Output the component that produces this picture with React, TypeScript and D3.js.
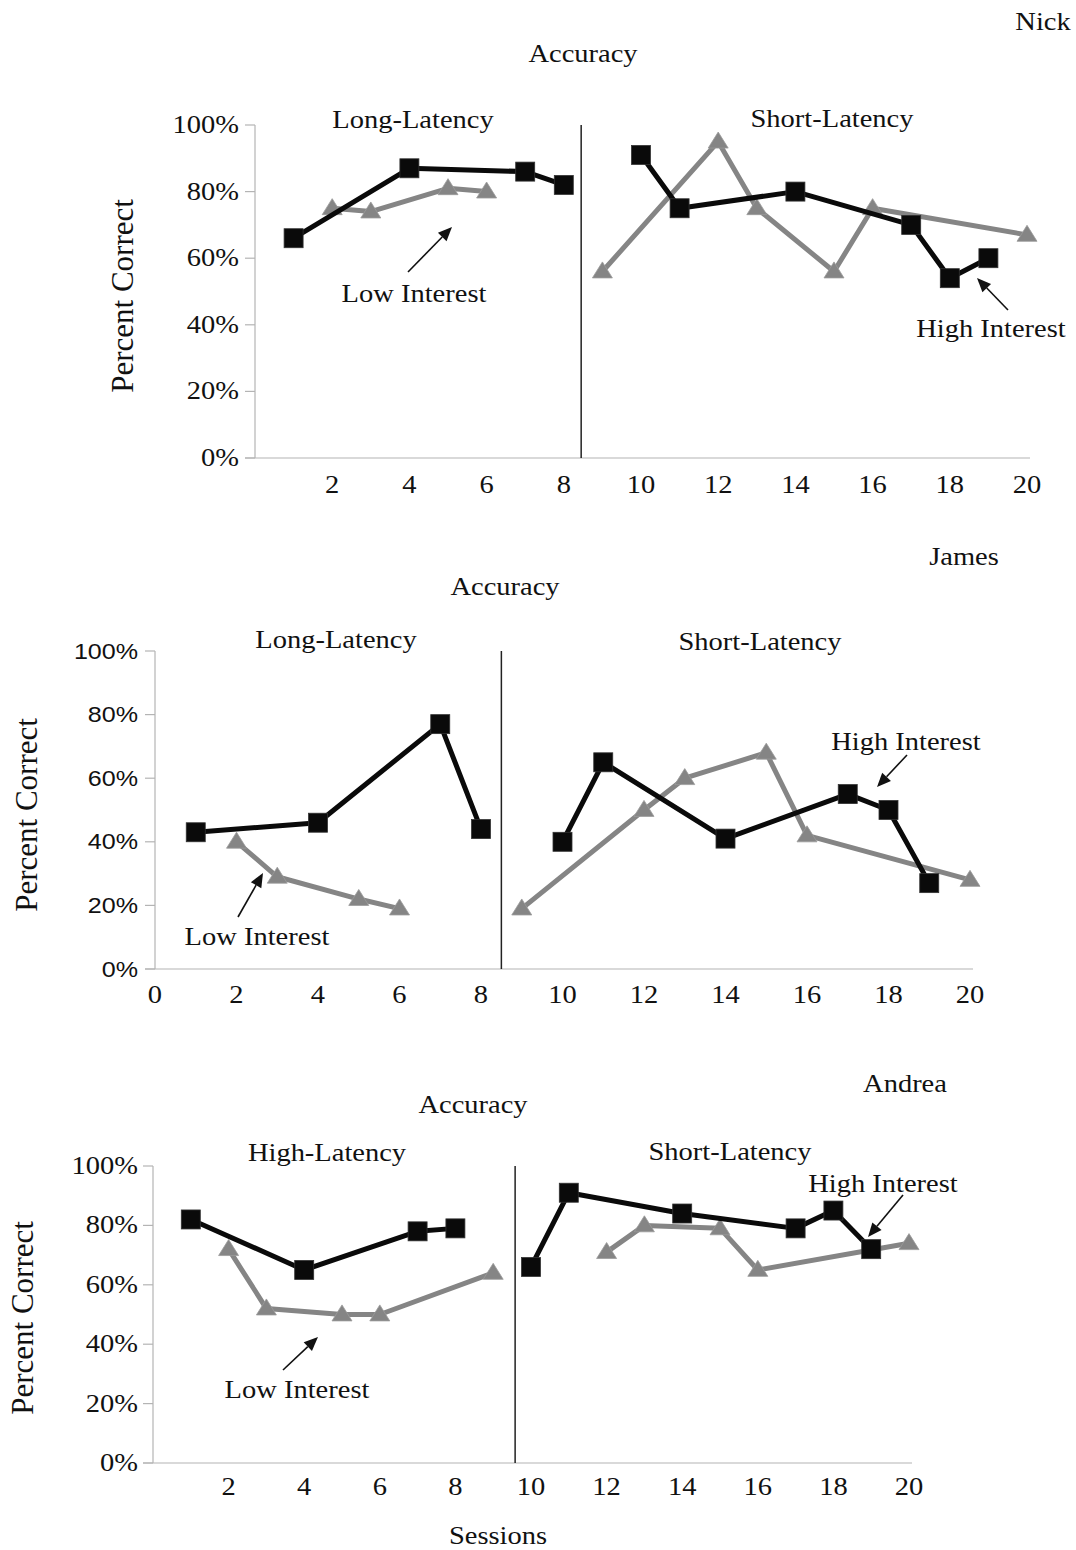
import React from "react";
import * as d3 from "d3";

// ---------- DATA ----------
const yTickValues = [0, 20, 40, 60, 80, 100];
const xTickValuesNick = [2, 4, 6, 8, 10, 12, 14, 16, 18, 20];
const xTickValuesJames = [0, 2, 4, 6, 8, 10, 12, 14, 16, 18, 20];
const xTickValuesAndrea = [2, 4, 6, 8, 10, 12, 14, 16, 18, 20];

const highSessions = [1, 4, 7, 8, 10, 11, 14, 17, 18, 19];
const lowSessions = [2, 3, 5, 6, 9, 12, 13, 15, 16, 20];

const nickHigh = [66, 87, 86, 82, 91, 75, 80, 70, 54, 60];
const nickLow = [75, 74, 81, 80, 56, 95, 75, 56, 75, 67];

const jamesHigh = [43, 46, 77, 44, 40, 65, 41, 55, 50, 27];
const jamesLow = [40, 29, 22, 19, 19, 50, 60, 68, 42, 28];

const andreaHigh = [82, 65, 78, 79, 66, 91, 84, 79, 85, 72];
const andreaLow = [72, 52, 50, 50, 64, 71, 80, 79, 65, 74];

const studentNames = ["Nick", "James", "Andrea"];
const leftPhaseLabels = ["Long-Latency", "Long-Latency", "High-Latency"];
const rightPhaseLabel = "Short-Latency";

// ---------- STYLE ----------
const SERIF = "'Liberation Serif', 'Times New Roman', serif";
const SANS = "'Liberation Sans', Arial, sans-serif";
const SX = 1.14;
const GRAY = "#858585";
const AXIS = "#b4b4b4";

type Pt = { s: number; v: number };

function T({ x, y, children, size = 25, anchor = "middle", family = SERIF }: any) {
  return (
    <text
      transform={`translate(${x},${y}) scale(${SX},1)`}
      textAnchor={anchor}
      fontFamily={family}
      fontSize={size}
      fill="#111"
    >
      {children}
    </text>
  );
}

function Arrow({ x1, y1, x2, y2 }: any) {
  const ang = Math.atan2(y2 - y1, x2 - x1);
  const L = 14, W = 6;
  const bx = x2 - L * Math.cos(ang), by = y2 - L * Math.sin(ang);
  const px = -Math.sin(ang) * W, py = Math.cos(ang) * W;
  return (
    <g>
      <line x1={x1} y1={y1} x2={bx} y2={by} stroke="#111" strokeWidth={1.6} />
      <polygon points={`${x2},${y2} ${bx + px},${by + py} ${bx - px},${by - py}`} fill="#111" />
    </g>
  );
}

function Panel({ cfg }: any) {
  const x = d3.scaleLinear().domain([0, 20]).range([cfg.x0, cfg.x1]);
  const y = d3.scaleLinear().domain([0, 100]).range([cfg.yBottom, cfg.yTop]);
  const line = d3.line<Pt>().x((d) => x(d.s)).y((d) => y(d.v));

  const mk = (sessions: number[], vals: number[]) => sessions.map((s, i) => ({ s, v: vals[i] }));
  const high = mk(highSessions, cfg.high);
  const low = mk(lowSessions, cfg.low);
  const split = (pts: Pt[]) => [pts.filter((p) => p.s < cfg.divider), pts.filter((p) => p.s > cfg.divider)];

  const sq = 19;
  const tri = (cx: number, cy: number) => {
    const w = 20, h = 16;
    return `${cx},${cy - h * 0.6} ${cx + w / 2},${cy + h * 0.4} ${cx - w / 2},${cy + h * 0.4}`;
  };

  return (
    <g>
      {/* y axis */}
      <line x1={x(0)} x2={x(0)} y1={y(0)} y2={y(100)} stroke={AXIS} strokeWidth={1.2} />
      {yTickValues.map((t) => (
        <g key={t}>
          <line x1={x(0) - 10} x2={x(0)} y1={y(t)} y2={y(t)} stroke={AXIS} strokeWidth={1.2} />
          <T x={cfg.yLabelRight} y={y(t) + cfg.yLabelDy} anchor="end" family={cfg.yFamily} size={cfg.yFont}>
            {t + "%"}
          </T>
        </g>
      ))}
      {/* x axis */}
      <line x1={x(0) - 10} x2={x(20) + 3} y1={y(0)} y2={y(0)} stroke={AXIS} strokeWidth={1.2} />
      {cfg.xTicks.map((t: number) => (
        <T key={t} x={x(t)} y={cfg.xLabelY}>
          {String(t)}
        </T>
      ))}
      {/* divider */}
      <line x1={x(cfg.divider)} x2={x(cfg.divider)} y1={y(0)} y2={y(100)} stroke="#222" strokeWidth={1.5} />

      {/* low interest (gray) */}
      {split(low).map((seg, i) => (
        <path key={"l" + i} d={line(seg) || ""} fill="none" stroke={GRAY} strokeWidth={5} strokeLinejoin="round" />
      ))}
      {low.map((p, i) => (
        <polygon key={"lt" + i} points={tri(x(p.s), y(p.v))} fill={GRAY} stroke="#9a9a9a" strokeWidth={0.8} />
      ))}
      {/* high interest (black) */}
      {split(high).map((seg, i) => (
        <path key={"h" + i} d={line(seg) || ""} fill="none" stroke="#0a0a0a" strokeWidth={5} strokeLinejoin="round" />
      ))}
      {high.map((p, i) => (
        <rect key={"hs" + i} x={x(p.s) - sq / 2} y={y(p.v) - sq / 2} width={sq} height={sq} fill="#0a0a0a" stroke="#333" strokeWidth={0.8} />
      ))}

      {/* titles */}
      <T x={cfg.name[0]} y={cfg.name[1]}>{cfg.nameText}</T>
      <T x={cfg.acc[0]} y={cfg.acc[1]}>Accuracy</T>
      <T x={cfg.leftPhase[0]} y={cfg.leftPhase[1]}>{cfg.leftPhaseText}</T>
      <T x={cfg.rightPhase[0]} y={cfg.rightPhase[1]}>{rightPhaseLabel}</T>
      <text
        transform={`translate(${cfg.ylab[0]},${cfg.ylab[1]}) rotate(-90)`}
        textAnchor="middle"
        fontFamily={SERIF}
        fontSize={31}
        fill="#111"
        dominantBaseline="central"
      >
        Percent Correct
      </text>

      {/* annotations */}
      <T x={cfg.lowLab[0]} y={cfg.lowLab[1]}>Low Interest</T>
      <Arrow x1={cfg.lowArrow[0]} y1={cfg.lowArrow[1]} x2={cfg.lowArrow[2]} y2={cfg.lowArrow[3]} />
      <T x={cfg.highLab[0]} y={cfg.highLab[1]}>High Interest</T>
      <Arrow x1={cfg.highArrow[0]} y1={cfg.highArrow[1]} x2={cfg.highArrow[2]} y2={cfg.highArrow[3]} />
    </g>
  );
}

const panels = [
  {
    nameText: studentNames[0], leftPhaseText: leftPhaseLabels[0],
    high: nickHigh, low: nickLow,
    x0: 255, x1: 1027, yTop: 125, yBottom: 458, divider: 8.45,
    xTicks: xTickValuesNick, xLabelY: 493,
    yLabelRight: 239, yLabelDy: 8, yFamily: SERIF, yFont: 25,
    name: [1043, 30], acc: [583, 62], leftPhase: [413, 128], rightPhase: [832, 127],
    ylab: [122, 296],
    lowLab: [414, 302], lowArrow: [408, 272, 452, 227],
    highLab: [991, 337], highArrow: [1008, 310, 977, 278],
  },
  {
    nameText: studentNames[1], leftPhaseText: leftPhaseLabels[1],
    high: jamesHigh, low: jamesLow,
    x0: 155, x1: 970, yTop: 651, yBottom: 969, divider: 8.5,
    xTicks: xTickValuesJames, xLabelY: 1003,
    yLabelRight: 138, yLabelDy: 7.5, yFamily: SANS, yFont: 22,
    name: [964, 565], acc: [505, 595], leftPhase: [336, 648], rightPhase: [760, 650],
    ylab: [26, 815],
    lowLab: [257, 945], lowArrow: [238, 917, 263, 873],
    highLab: [906, 750], highArrow: [907, 755, 877, 787],
  },
  {
    nameText: studentNames[2], leftPhaseText: leftPhaseLabels[2],
    high: andreaHigh, low: andreaLow,
    x0: 153, x1: 909, yTop: 1166, yBottom: 1463, divider: 9.58,
    xTicks: xTickValuesAndrea, xLabelY: 1495,
    yLabelRight: 138, yLabelDy: 8, yFamily: SERIF, yFont: 25,
    name: [905, 1092], acc: [473, 1113], leftPhase: [327, 1161], rightPhase: [730, 1160],
    ylab: [22, 1318],
    lowLab: [297, 1398], lowArrow: [283, 1370, 318, 1337],
    highLab: [883, 1192], highArrow: [903, 1195, 868, 1237],
  },
];

export default function App() {
  return (
    <svg
      width={1076}
      height={1550}
      style={{ position: "absolute", left: 0, top: 0, background: "#fff" }}
    >
      <rect width={1076} height={1550} fill="#fff" />
      {panels.map((cfg, i) => (
        <Panel key={i} cfg={cfg} />
      ))}
      <T x={498} y={1544}>Sessions</T>
    </svg>
  );
}
